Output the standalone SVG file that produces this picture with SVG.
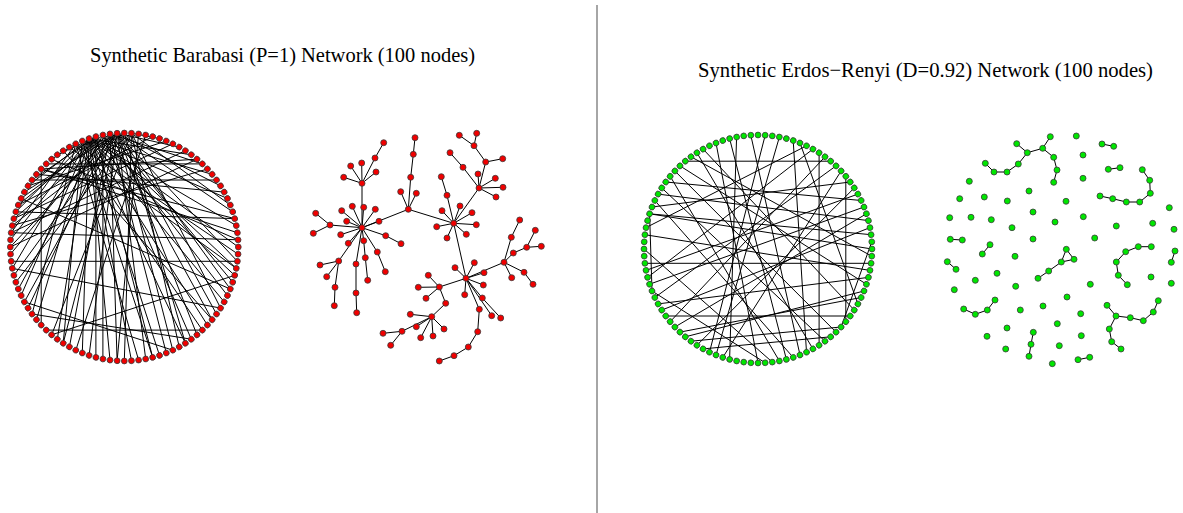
<svg xmlns="http://www.w3.org/2000/svg" xmlns:xlink="http://www.w3.org/1999/xlink" width="1183" height="513" viewBox="0 0 1183 513">
<style>
.title{font-family:"Liberation Serif","Times New Roman",serif;font-size:21px;fill:#000}
.edges line{stroke:#000;stroke-width:1;fill:none}
.rn{fill:#f00000;stroke:#3a3a3a;stroke-width:0.8}
.gn{fill:#00e600;stroke:#3a3a3a;stroke-width:0.8}
.div{stroke:#888;stroke-width:1.5}
</style>
<defs>
<circle id="rd" class="rn" cx="114" cy="0" r="2.9"/>
<circle id="gd" class="gn" cx="114" cy="0" r="2.9"/>
</defs>
<rect width="1183" height="513" fill="#fff"/>
<line class="div" x1="597" y1="5" x2="597" y2="513"/>
<text class="title" x="90" y="62" textLength="385" lengthAdjust="spacingAndGlyphs">Synthetic Barabasi (P=1) Network (100 nodes)</text>
<text class="title" x="698" y="77" textLength="455" lengthAdjust="spacingAndGlyphs">Synthetic Erdos−Renyi (D=0.92) Network (100 nodes)</text>

<!-- Barabasi circular layout -->
<g id="ba-circle" transform="translate(124.3 247)">
<g class="edges" id="ba-circle-edges">
<line x1="-35.2" y1="-108.4" x2="114" y2="0"/>
<line x1="-35.2" y1="-108.4" x2="110.4" y2="28.4"/>
<line x1="-35.2" y1="-108.4" x2="99.9" y2="54.9"/>
<line x1="-35.2" y1="-108.4" x2="83.1" y2="78"/>
<line x1="-35.2" y1="-108.4" x2="61.1" y2="96.3"/>
<line x1="-35.2" y1="-108.4" x2="35.2" y2="108.4"/>
<line x1="-35.2" y1="-108.4" x2="7.2" y2="113.8"/>
<line x1="-35.2" y1="-108.4" x2="-14.3" y2="113.1"/>
<line x1="-35.2" y1="-108.4" x2="-42" y2="106"/>
<line x1="-35.2" y1="-108.4" x2="-67" y2="92.2"/>
<line x1="-35.2" y1="-108.4" x2="-87.8" y2="72.7"/>
<line x1="-35.2" y1="-108.4" x2="-103.2" y2="48.5"/>
<line x1="-35.2" y1="-108.4" x2="-112" y2="21.4"/>
<line x1="-35.2" y1="-108.4" x2="-113.8" y2="-7.2"/>
<line x1="-35.2" y1="-108.4" x2="-108.4" y2="-35.2"/>
<line x1="-35.2" y1="-108.4" x2="-96.3" y2="-61.1"/>
<line x1="-35.2" y1="-108.4" x2="67" y2="-92.2"/>
<line x1="-35.2" y1="-108.4" x2="87.8" y2="-72.7"/>
<line x1="-35.2" y1="-108.4" x2="103.2" y2="-48.5"/>
<line x1="-35.2" y1="-108.4" x2="112" y2="-21.4"/>
<line x1="-7.2" y1="-113.8" x2="113.1" y2="14.3"/>
<line x1="-7.2" y1="-113.8" x2="106" y2="42"/>
<line x1="-7.2" y1="-113.8" x2="92.2" y2="67"/>
<line x1="-7.2" y1="-113.8" x2="72.7" y2="87.8"/>
<line x1="-7.2" y1="-113.8" x2="48.5" y2="103.2"/>
<line x1="-7.2" y1="-113.8" x2="21.4" y2="112"/>
<line x1="-7.2" y1="-113.8" x2="-35.2" y2="108.4"/>
<line x1="-7.2" y1="-113.8" x2="-61.1" y2="96.3"/>
<line x1="-7.2" y1="-113.8" x2="-99.9" y2="54.9"/>
<line x1="-7.2" y1="-113.8" x2="-110.4" y2="28.4"/>
<line x1="-7.2" y1="-113.8" x2="-114" y2="0"/>
<line x1="-7.2" y1="-113.8" x2="-110.4" y2="-28.4"/>
<line x1="-7.2" y1="-113.8" x2="-99.9" y2="-54.9"/>
<line x1="-7.2" y1="-113.8" x2="54.9" y2="-99.9"/>
<line x1="-7.2" y1="-113.8" x2="96.3" y2="-61.1"/>
<line x1="-7.2" y1="-113.8" x2="108.4" y2="-35.2"/>
<line x1="-14.3" y1="-113.1" x2="108.4" y2="35.2"/>
<line x1="-14.3" y1="-113.1" x2="87.8" y2="72.7"/>
<line x1="-14.3" y1="-113.1" x2="42" y2="106"/>
<line x1="-14.3" y1="-113.1" x2="-7.2" y2="113.8"/>
<line x1="-14.3" y1="-113.1" x2="-54.9" y2="99.9"/>
<line x1="-14.3" y1="-113.1" x2="-96.3" y2="61.1"/>
<line x1="-14.3" y1="-113.1" x2="-113.8" y2="7.2"/>
<line x1="-14.3" y1="-113.1" x2="-103.2" y2="-48.5"/>
<line x1="-14.3" y1="-113.1" x2="78" y2="-83.1"/>
<line x1="7.2" y1="-113.8" x2="96.3" y2="61.1"/>
<line x1="7.2" y1="-113.8" x2="54.9" y2="99.9"/>
<line x1="7.2" y1="-113.8" x2="0" y2="114"/>
<line x1="7.2" y1="-113.8" x2="-72.7" y2="87.8"/>
<line x1="7.2" y1="-113.8" x2="-108.4" y2="35.2"/>
<line x1="7.2" y1="-113.8" x2="-112" y2="-21.4"/>
<line x1="7.2" y1="-113.8" x2="35.2" y2="-108.4"/>
<line x1="7.2" y1="-113.8" x2="106" y2="-42"/>
<line x1="-48.5" y1="-103.2" x2="113.8" y2="7.2"/>
<line x1="-48.5" y1="-103.2" x2="78" y2="83.1"/>
<line x1="-48.5" y1="-103.2" x2="14.3" y2="113.1"/>
<line x1="-48.5" y1="-103.2" x2="-92.2" y2="67"/>
<line x1="-48.5" y1="-103.2" x2="-113.1" y2="-14.3"/>
<line x1="-48.5" y1="-103.2" x2="-72.7" y2="-87.8"/>
<line x1="-21.4" y1="-112" x2="103.2" y2="48.5"/>
<line x1="-21.4" y1="-112" x2="67" y2="92.2"/>
<line x1="-21.4" y1="-112" x2="-21.4" y2="112"/>
<line x1="-21.4" y1="-112" x2="-106" y2="42"/>
<line x1="-21.4" y1="-112" x2="-106" y2="-42"/>
<line x1="-28.4" y1="-110.4" x2="-28.4" y2="110.4"/>
<line x1="-28.4" y1="-110.4" x2="28.4" y2="110.4"/>
<line x1="-28.4" y1="-110.4" x2="-92.2" y2="-67"/>
<line x1="-28.4" y1="-110.4" x2="-67" y2="-92.2"/>
<line x1="-28.4" y1="-110.4" x2="112" y2="21.4"/>
<line x1="-83.1" y1="-78" x2="-83.1" y2="78"/>
<line x1="-83.1" y1="-78" x2="72.7" y2="-87.8"/>
<line x1="-83.1" y1="-78" x2="110.4" y2="-28.4"/>
<line x1="-83.1" y1="-78" x2="113.1" y2="-14.3"/>
<line x1="113.1" y1="14.3" x2="-113.1" y2="14.3"/>
<line x1="78" y1="83.1" x2="-78" y2="83.1"/>
<line x1="-92.2" y1="-67" x2="92.2" y2="-67"/>
<line x1="-78" y1="-83.1" x2="78" y2="-83.1"/>
<line x1="-113.1" y1="-14.3" x2="113.8" y2="-7.2"/>
<line x1="-113.1" y1="-14.3" x2="61.1" y2="-96.3"/>
<line x1="-110.4" y1="-28.4" x2="48.5" y2="-103.2"/>
<line x1="-106" y1="-42" x2="28.4" y2="-110.4"/>
<line x1="-48.5" y1="103.2" x2="21.4" y2="-112"/>
<line x1="-87.8" y1="-72.7" x2="99.9" y2="-54.9"/>
<line x1="-96.3" y1="-61.1" x2="42" y2="-106"/>
<line x1="-61.1" y1="-96.3" x2="87.8" y2="72.7"/>
<line x1="-54.9" y1="-99.9" x2="112" y2="21.4"/>
<line x1="-42" y1="-106" x2="28.4" y2="110.4"/>
<line x1="0" y1="-114" x2="61.1" y2="96.3"/>
<line x1="14.3" y1="-113.1" x2="-7.2" y2="113.8"/>
<line x1="-42" y1="-106" x2="-61.1" y2="96.3"/>
<line x1="-112" y1="-21.4" x2="83.1" y2="-78"/>
<line x1="-108.4" y1="-35.2" x2="110.4" y2="-28.4"/>
<line x1="-72.7" y1="-87.8" x2="113.8" y2="-7.2"/>
<line x1="-72.7" y1="87.8" x2="110.4" y2="28.4"/>
<line x1="-92.2" y1="67" x2="67" y2="92.2"/>
<line x1="-99.9" y1="54.9" x2="48.5" y2="103.2"/>
<line x1="-112" y1="21.4" x2="96.3" y2="61.1"/>
<line x1="-114" y1="0" x2="72.7" y2="-87.8"/>
<line x1="-103.2" y1="-48.5" x2="106" y2="42"/>
</g>
<g id="ba-circle-nodes">
<use id="bc0" href="#rd" transform="rotate(0)"/><use id="bc1" href="#rd" transform="rotate(3.6)"/><use id="bc2" href="#rd" transform="rotate(7.2)"/><use id="bc3" href="#rd" transform="rotate(10.8)"/><use id="bc4" href="#rd" transform="rotate(14.4)"/><use id="bc5" href="#rd" transform="rotate(18)"/><use id="bc6" href="#rd" transform="rotate(21.6)"/><use id="bc7" href="#rd" transform="rotate(25.2)"/><use id="bc8" href="#rd" transform="rotate(28.8)"/><use id="bc9" href="#rd" transform="rotate(32.4)"/>
<use id="bc10" href="#rd" transform="rotate(36)"/><use id="bc11" href="#rd" transform="rotate(39.6)"/><use id="bc12" href="#rd" transform="rotate(43.2)"/><use id="bc13" href="#rd" transform="rotate(46.8)"/><use id="bc14" href="#rd" transform="rotate(50.4)"/><use id="bc15" href="#rd" transform="rotate(54)"/><use id="bc16" href="#rd" transform="rotate(57.6)"/><use id="bc17" href="#rd" transform="rotate(61.2)"/><use id="bc18" href="#rd" transform="rotate(64.8)"/><use id="bc19" href="#rd" transform="rotate(68.4)"/>
<use id="bc20" href="#rd" transform="rotate(72)"/><use id="bc21" href="#rd" transform="rotate(75.6)"/><use id="bc22" href="#rd" transform="rotate(79.2)"/><use id="bc23" href="#rd" transform="rotate(82.8)"/><use id="bc24" href="#rd" transform="rotate(86.4)"/><use id="bc25" href="#rd" transform="rotate(90)"/><use id="bc26" href="#rd" transform="rotate(93.6)"/><use id="bc27" href="#rd" transform="rotate(97.2)"/><use id="bc28" href="#rd" transform="rotate(100.8)"/><use id="bc29" href="#rd" transform="rotate(104.4)"/>
<use id="bc30" href="#rd" transform="rotate(108)"/><use id="bc31" href="#rd" transform="rotate(111.6)"/><use id="bc32" href="#rd" transform="rotate(115.2)"/><use id="bc33" href="#rd" transform="rotate(118.8)"/><use id="bc34" href="#rd" transform="rotate(122.4)"/><use id="bc35" href="#rd" transform="rotate(126)"/><use id="bc36" href="#rd" transform="rotate(129.6)"/><use id="bc37" href="#rd" transform="rotate(133.2)"/><use id="bc38" href="#rd" transform="rotate(136.8)"/><use id="bc39" href="#rd" transform="rotate(140.4)"/>
<use id="bc40" href="#rd" transform="rotate(144)"/><use id="bc41" href="#rd" transform="rotate(147.6)"/><use id="bc42" href="#rd" transform="rotate(151.2)"/><use id="bc43" href="#rd" transform="rotate(154.8)"/><use id="bc44" href="#rd" transform="rotate(158.4)"/><use id="bc45" href="#rd" transform="rotate(162)"/><use id="bc46" href="#rd" transform="rotate(165.6)"/><use id="bc47" href="#rd" transform="rotate(169.2)"/><use id="bc48" href="#rd" transform="rotate(172.8)"/><use id="bc49" href="#rd" transform="rotate(176.4)"/>
<use id="bc50" href="#rd" transform="rotate(180)"/><use id="bc51" href="#rd" transform="rotate(183.6)"/><use id="bc52" href="#rd" transform="rotate(187.2)"/><use id="bc53" href="#rd" transform="rotate(190.8)"/><use id="bc54" href="#rd" transform="rotate(194.4)"/><use id="bc55" href="#rd" transform="rotate(198)"/><use id="bc56" href="#rd" transform="rotate(201.6)"/><use id="bc57" href="#rd" transform="rotate(205.2)"/><use id="bc58" href="#rd" transform="rotate(208.8)"/><use id="bc59" href="#rd" transform="rotate(212.4)"/>
<use id="bc60" href="#rd" transform="rotate(216)"/><use id="bc61" href="#rd" transform="rotate(219.6)"/><use id="bc62" href="#rd" transform="rotate(223.2)"/><use id="bc63" href="#rd" transform="rotate(226.8)"/><use id="bc64" href="#rd" transform="rotate(230.4)"/><use id="bc65" href="#rd" transform="rotate(234)"/><use id="bc66" href="#rd" transform="rotate(237.6)"/><use id="bc67" href="#rd" transform="rotate(241.2)"/><use id="bc68" href="#rd" transform="rotate(244.8)"/><use id="bc69" href="#rd" transform="rotate(248.4)"/>
<use id="bc70" href="#rd" transform="rotate(252)"/><use id="bc71" href="#rd" transform="rotate(255.6)"/><use id="bc72" href="#rd" transform="rotate(259.2)"/><use id="bc73" href="#rd" transform="rotate(262.8)"/><use id="bc74" href="#rd" transform="rotate(266.4)"/><use id="bc75" href="#rd" transform="rotate(270)"/><use id="bc76" href="#rd" transform="rotate(273.6)"/><use id="bc77" href="#rd" transform="rotate(277.2)"/><use id="bc78" href="#rd" transform="rotate(280.8)"/><use id="bc79" href="#rd" transform="rotate(284.4)"/>
<use id="bc80" href="#rd" transform="rotate(288)"/><use id="bc81" href="#rd" transform="rotate(291.6)"/><use id="bc82" href="#rd" transform="rotate(295.2)"/><use id="bc83" href="#rd" transform="rotate(298.8)"/><use id="bc84" href="#rd" transform="rotate(302.4)"/><use id="bc85" href="#rd" transform="rotate(306)"/><use id="bc86" href="#rd" transform="rotate(309.6)"/><use id="bc87" href="#rd" transform="rotate(313.2)"/><use id="bc88" href="#rd" transform="rotate(316.8)"/><use id="bc89" href="#rd" transform="rotate(320.4)"/>
<use id="bc90" href="#rd" transform="rotate(324)"/><use id="bc91" href="#rd" transform="rotate(327.6)"/><use id="bc92" href="#rd" transform="rotate(331.2)"/><use id="bc93" href="#rd" transform="rotate(334.8)"/><use id="bc94" href="#rd" transform="rotate(338.4)"/><use id="bc95" href="#rd" transform="rotate(342)"/><use id="bc96" href="#rd" transform="rotate(345.6)"/><use id="bc97" href="#rd" transform="rotate(349.2)"/><use id="bc98" href="#rd" transform="rotate(352.8)"/><use id="bc99" href="#rd" transform="rotate(356.4)"/>
</g>
</g>

<!-- Barabasi tree layout -->
<g id="ba-tree">
<g class="edges" id="ba-tree-edges">
<line x1="362" y1="227.7" x2="362" y2="183.3"/>
<line x1="362" y1="227.7" x2="408.3" y2="209.3"/>
<line x1="408.3" y1="209.3" x2="453.7" y2="223.3"/>
<line x1="453.7" y1="223.3" x2="466" y2="278.3"/>
<line x1="453.7" y1="223.3" x2="479" y2="188"/>
<line x1="466" y1="278.3" x2="504" y2="262.3"/>
<line x1="466" y1="278.3" x2="439.3" y2="287"/>
<line x1="439.3" y1="287" x2="445.7" y2="303.3"/>
<line x1="445.7" y1="303.3" x2="431.7" y2="316.7"/>
<line x1="362" y1="183.3" x2="343.7" y2="177.3"/>
<line x1="362" y1="183.3" x2="350.7" y2="166"/>
<line x1="362" y1="183.3" x2="361.7" y2="163"/>
<line x1="362" y1="183.3" x2="375" y2="158"/>
<line x1="375" y1="158" x2="383.7" y2="142.7"/>
<line x1="362" y1="183.3" x2="376" y2="172"/>
<line x1="362" y1="227.7" x2="330" y2="225"/>
<line x1="330" y1="225" x2="315.7" y2="213.3"/>
<line x1="330" y1="225" x2="313.3" y2="233.3"/>
<line x1="362" y1="227.7" x2="341.7" y2="210.7"/>
<line x1="362" y1="227.7" x2="352.3" y2="206.3"/>
<line x1="362" y1="227.7" x2="363.7" y2="207.3"/>
<line x1="362" y1="227.7" x2="375.3" y2="209.3"/>
<line x1="362" y1="227.7" x2="379" y2="221.3"/>
<line x1="362" y1="227.7" x2="346.7" y2="221.3"/>
<line x1="362" y1="227.7" x2="340.7" y2="234.7"/>
<line x1="362" y1="227.7" x2="348.3" y2="243.3"/>
<line x1="362" y1="227.7" x2="385.7" y2="235.7"/>
<line x1="385.7" y1="235.7" x2="401" y2="243.7"/>
<line x1="362" y1="227.7" x2="363.7" y2="240.7"/>
<line x1="363.7" y1="240.7" x2="365.3" y2="257.7"/>
<line x1="365.3" y1="257.7" x2="367.7" y2="280.3"/>
<line x1="362" y1="227.7" x2="377.3" y2="252"/>
<line x1="377.3" y1="252" x2="385.3" y2="271.7"/>
<line x1="362" y1="227.7" x2="356" y2="264"/>
<line x1="356" y1="264" x2="356" y2="293"/>
<line x1="356" y1="293" x2="356.7" y2="312.7"/>
<line x1="362" y1="227.7" x2="338.7" y2="261"/>
<line x1="338.7" y1="261" x2="320" y2="265"/>
<line x1="338.7" y1="261" x2="326.7" y2="276.7"/>
<line x1="338.7" y1="261" x2="335" y2="287.3"/>
<line x1="335" y1="287.3" x2="334.3" y2="305.7"/>
<line x1="408.3" y1="209.3" x2="400.7" y2="191.7"/>
<line x1="408.3" y1="209.3" x2="416.3" y2="193.3"/>
<line x1="408.3" y1="209.3" x2="410.7" y2="177.3"/>
<line x1="410.7" y1="177.3" x2="413.3" y2="154.3"/>
<line x1="413.3" y1="154.3" x2="415" y2="137.7"/>
<line x1="453.7" y1="223.3" x2="447" y2="195.3"/>
<line x1="447" y1="195.3" x2="441.3" y2="176.7"/>
<line x1="453.7" y1="223.3" x2="436.7" y2="226.7"/>
<line x1="453.7" y1="223.3" x2="442" y2="210.7"/>
<line x1="453.7" y1="223.3" x2="447" y2="238"/>
<line x1="453.7" y1="223.3" x2="460" y2="206"/>
<line x1="453.7" y1="223.3" x2="472" y2="212.7"/>
<line x1="453.7" y1="223.3" x2="476.3" y2="224.7"/>
<line x1="453.7" y1="223.3" x2="466.3" y2="234.3"/>
<line x1="479" y1="188" x2="463" y2="167.3"/>
<line x1="463" y1="167.3" x2="450" y2="152.7"/>
<line x1="479" y1="188" x2="478" y2="174"/>
<line x1="479" y1="188" x2="495.3" y2="178.3"/>
<line x1="479" y1="188" x2="503" y2="187.3"/>
<line x1="479" y1="188" x2="496" y2="197"/>
<line x1="479" y1="188" x2="485.7" y2="162"/>
<line x1="485.7" y1="162" x2="502.7" y2="158.7"/>
<line x1="485.7" y1="162" x2="474" y2="145.7"/>
<line x1="474" y1="145.7" x2="459.3" y2="135.3"/>
<line x1="474" y1="145.7" x2="476.7" y2="133.3"/>
<line x1="466" y1="278.3" x2="455" y2="267.7"/>
<line x1="466" y1="278.3" x2="474.3" y2="262.7"/>
<line x1="466" y1="278.3" x2="484" y2="272.7"/>
<line x1="466" y1="278.3" x2="483.3" y2="285"/>
<line x1="466" y1="278.3" x2="464.7" y2="294.7"/>
<line x1="466" y1="278.3" x2="482.3" y2="298"/>
<line x1="482.3" y1="298" x2="500.7" y2="318"/>
<line x1="466" y1="278.3" x2="491.7" y2="315.7"/>
<line x1="466" y1="278.3" x2="479.3" y2="309.3"/>
<line x1="479.3" y1="309.3" x2="477.7" y2="331.7"/>
<line x1="477.7" y1="331.7" x2="468.3" y2="347"/>
<line x1="468.3" y1="347" x2="454" y2="355.7"/>
<line x1="454" y1="355.7" x2="439.3" y2="361"/>
<line x1="504" y1="262.3" x2="511.3" y2="237.3"/>
<line x1="511.3" y1="237.3" x2="519.7" y2="220"/>
<line x1="504" y1="262.3" x2="513.3" y2="253"/>
<line x1="513.3" y1="253" x2="526.7" y2="247.3"/>
<line x1="526.7" y1="247.3" x2="535.3" y2="230.3"/>
<line x1="526.7" y1="247.3" x2="541.3" y2="246.3"/>
<line x1="504" y1="262.3" x2="524" y2="272.3"/>
<line x1="524" y1="272.3" x2="533" y2="284.3"/>
<line x1="504" y1="262.3" x2="511.7" y2="277.7"/>
<line x1="439.3" y1="287" x2="428.3" y2="275.3"/>
<line x1="439.3" y1="287" x2="418.3" y2="287.3"/>
<line x1="439.3" y1="287" x2="426" y2="298.3"/>
<line x1="431.7" y1="316.7" x2="410.3" y2="314.3"/>
<line x1="431.7" y1="316.7" x2="416.3" y2="326.7"/>
<line x1="431.7" y1="316.7" x2="420.7" y2="337.7"/>
<line x1="431.7" y1="316.7" x2="433" y2="336"/>
<line x1="431.7" y1="316.7" x2="444" y2="329"/>
<line x1="431.7" y1="316.7" x2="402" y2="331.3"/>
<line x1="402" y1="331.3" x2="383" y2="333.3"/>
<line x1="402" y1="331.3" x2="390.7" y2="345.3"/>
</g>
<g id="ba-tree-nodes" class="rn">
<circle id="bt-A" cx="362" cy="227.7" r="3"/><circle id="bt-B" cx="408.3" cy="209.3" r="3"/><circle id="bt-C" cx="453.7" cy="223.3" r="3"/><circle id="bt-D" cx="466" cy="278.3" r="3"/><circle id="bt-E" cx="479" cy="188" r="3"/><circle id="bt-F" cx="362" cy="183.3" r="3"/><circle id="bt-G" cx="431.7" cy="316.7" r="3"/><circle id="bt-H" cx="504" cy="262.3" r="3"/><circle id="bt-I" cx="439.3" cy="287" r="3"/>
<circle id="bt-f1" cx="343.7" cy="177.3" r="3"/><circle id="bt-f2" cx="350.7" cy="166" r="3"/><circle id="bt-f3" cx="361.7" cy="163" r="3"/><circle id="bt-f4" cx="375" cy="158" r="3"/><circle id="bt-f5" cx="383.7" cy="142.7" r="3"/><circle id="bt-f6" cx="376" cy="172" r="3"/>
<circle id="bt-a1" cx="330" cy="225" r="3"/><circle id="bt-a1a" cx="315.7" cy="213.3" r="3"/><circle id="bt-a1b" cx="313.3" cy="233.3" r="3"/><circle id="bt-a2" cx="341.7" cy="210.7" r="3"/><circle id="bt-a3" cx="352.3" cy="206.3" r="3"/><circle id="bt-a4" cx="363.7" cy="207.3" r="3"/><circle id="bt-a5" cx="375.3" cy="209.3" r="3"/><circle id="bt-a6" cx="379" cy="221.3" r="3"/><circle id="bt-a7" cx="346.7" cy="221.3" r="3"/><circle id="bt-a8" cx="340.7" cy="234.7" r="3"/><circle id="bt-a9" cx="348.3" cy="243.3" r="3"/><circle id="bt-a10" cx="385.7" cy="235.7" r="3"/><circle id="bt-a10a" cx="401" cy="243.7" r="3"/><circle id="bt-a11" cx="363.7" cy="240.7" r="3"/><circle id="bt-a11a" cx="365.3" cy="257.7" r="3"/><circle id="bt-a11b" cx="367.7" cy="280.3" r="3"/><circle id="bt-a12" cx="377.3" cy="252" r="3"/><circle id="bt-a12a" cx="385.3" cy="271.7" r="3"/><circle id="bt-a13" cx="356" cy="264" r="3"/><circle id="bt-a13a" cx="356" cy="293" r="3"/><circle id="bt-a13b" cx="356.7" cy="312.7" r="3"/><circle id="bt-a14" cx="338.7" cy="261" r="3"/><circle id="bt-a14a" cx="320" cy="265" r="3"/><circle id="bt-a14b" cx="326.7" cy="276.7" r="3"/><circle id="bt-a14c" cx="335" cy="287.3" r="3"/><circle id="bt-a14d" cx="334.3" cy="305.7" r="3"/>
<circle id="bt-b1" cx="400.7" cy="191.7" r="3"/><circle id="bt-b2" cx="416.3" cy="193.3" r="3"/><circle id="bt-b3" cx="410.7" cy="177.3" r="3"/><circle id="bt-b3a" cx="413.3" cy="154.3" r="3"/><circle id="bt-b3b" cx="415" cy="137.7" r="3"/>
<circle id="bt-c1" cx="447" cy="195.3" r="3"/><circle id="bt-c1a" cx="441.3" cy="176.7" r="3"/><circle id="bt-c2" cx="436.7" cy="226.7" r="3"/><circle id="bt-c3" cx="442" cy="210.7" r="3"/><circle id="bt-c4" cx="447" cy="238" r="3"/><circle id="bt-c5" cx="460" cy="206" r="3"/><circle id="bt-c6" cx="472" cy="212.7" r="3"/><circle id="bt-c7" cx="476.3" cy="224.7" r="3"/><circle id="bt-c8" cx="466.3" cy="234.3" r="3"/>
<circle id="bt-e1" cx="463" cy="167.3" r="3"/><circle id="bt-e1a" cx="450" cy="152.7" r="3"/><circle id="bt-e2" cx="478" cy="174" r="3"/><circle id="bt-e3" cx="495.3" cy="178.3" r="3"/><circle id="bt-e4" cx="503" cy="187.3" r="3"/><circle id="bt-e5" cx="496" cy="197" r="3"/><circle id="bt-e6" cx="485.7" cy="162" r="3"/><circle id="bt-e6a" cx="502.7" cy="158.7" r="3"/><circle id="bt-e6b" cx="474" cy="145.7" r="3"/><circle id="bt-e6b1" cx="459.3" cy="135.3" r="3"/><circle id="bt-e6b2" cx="476.7" cy="133.3" r="3"/>
<circle id="bt-d1" cx="455" cy="267.7" r="3"/><circle id="bt-d2" cx="474.3" cy="262.7" r="3"/><circle id="bt-d3" cx="484" cy="272.7" r="3"/><circle id="bt-d4" cx="483.3" cy="285" r="3"/><circle id="bt-d5" cx="464.7" cy="294.7" r="3"/><circle id="bt-d6" cx="482.3" cy="298" r="3"/><circle id="bt-d7" cx="491.7" cy="315.7" r="3"/><circle id="bt-d8" cx="500.7" cy="318" r="3"/><circle id="bt-d9" cx="479.3" cy="309.3" r="3"/><circle id="bt-d9a" cx="477.7" cy="331.7" r="3"/><circle id="bt-d9b" cx="468.3" cy="347" r="3"/><circle id="bt-d9c" cx="454" cy="355.7" r="3"/><circle id="bt-d9d" cx="439.3" cy="361" r="3"/>
<circle id="bt-h1" cx="511.3" cy="237.3" r="3"/><circle id="bt-h1a" cx="519.7" cy="220" r="3"/><circle id="bt-h2" cx="513.3" cy="253" r="3"/><circle id="bt-h3" cx="526.7" cy="247.3" r="3"/><circle id="bt-h3a" cx="535.3" cy="230.3" r="3"/><circle id="bt-h3b" cx="541.3" cy="246.3" r="3"/><circle id="bt-h4" cx="524" cy="272.3" r="3"/><circle id="bt-h4a" cx="533" cy="284.3" r="3"/><circle id="bt-h5" cx="511.7" cy="277.7" r="3"/>
<circle id="bt-i1" cx="428.3" cy="275.3" r="3"/><circle id="bt-i2" cx="418.3" cy="287.3" r="3"/><circle id="bt-i3" cx="426" cy="298.3" r="3"/><circle id="bt-i4" cx="445.7" cy="303.3" r="3"/>
<circle id="bt-g1" cx="410.3" cy="314.3" r="3"/><circle id="bt-g2" cx="416.3" cy="326.7" r="3"/><circle id="bt-g3" cx="420.7" cy="337.7" r="3"/><circle id="bt-g4" cx="433" cy="336" r="3"/><circle id="bt-g5" cx="444" cy="329" r="3"/><circle id="bt-g6" cx="402" cy="331.3" r="3"/><circle id="bt-g6a" cx="383" cy="333.3" r="3"/><circle id="bt-g6b" cx="390.7" cy="345.3" r="3"/>
</g>
</g>

<!-- Erdos-Renyi circular layout -->
<g id="er-circle" transform="translate(758 249)">
<g class="edges" id="er-circle-edges">
<line x1="113.1" y1="14.3" x2="-113.1" y2="14.3"/>
<line x1="-21.4" y1="-112" x2="-28.4" y2="110.4"/>
<line x1="61.1" y1="-96.3" x2="61.1" y2="96.3"/>
<line x1="87.8" y1="-72.7" x2="87.8" y2="72.7"/>
<line x1="-110.4" y1="28.4" x2="54.9" y2="-99.9"/>
<line x1="-103.2" y1="48.5" x2="78" y2="-83.1"/>
<line x1="-54.9" y1="-99.9" x2="96.3" y2="61.1"/>
<line x1="-28.4" y1="-110.4" x2="28.4" y2="110.4"/>
<line x1="7.2" y1="-113.8" x2="-48.5" y2="103.2"/>
<line x1="35.2" y1="-108.4" x2="48.5" y2="103.2"/>
<line x1="42" y1="-106" x2="99.9" y2="54.9"/>
<line x1="-108.4" y1="-35.2" x2="114" y2="0"/>
<line x1="-108.4" y1="-35.2" x2="113.1" y2="-14.3"/>
<line x1="-106" y1="-42" x2="92.2" y2="-67"/>
<line x1="-108.4" y1="-35.2" x2="-106" y2="42"/>
<line x1="-92.2" y1="-67" x2="103.2" y2="-48.5"/>
<line x1="-78" y1="-83.1" x2="108.4" y2="35.2"/>
<line x1="-72.7" y1="-87.8" x2="72.7" y2="-87.8"/>
<line x1="-99.9" y1="-54.9" x2="110.4" y2="-28.4"/>
<line x1="-113.1" y1="-14.3" x2="112" y2="21.4"/>
<line x1="-112" y1="-21.4" x2="48.5" y2="-103.2"/>
<line x1="-112" y1="21.4" x2="99.9" y2="-54.9"/>
<line x1="-108.4" y1="35.2" x2="106" y2="-42"/>
<line x1="-96.3" y1="61.1" x2="112" y2="-21.4"/>
<line x1="-87.8" y1="72.7" x2="67" y2="-92.2"/>
<line x1="-78" y1="83.1" x2="103.2" y2="48.5"/>
<line x1="-67" y1="92.2" x2="83.1" y2="78"/>
<line x1="-54.9" y1="99.9" x2="72.7" y2="87.8"/>
<line x1="-42" y1="106" x2="21.4" y2="-112"/>
<line x1="-67" y1="-92.2" x2="113.8" y2="7.2"/>
<line x1="0" y1="114" x2="-42" y2="-106"/>
<line x1="21.4" y1="112" x2="-87.8" y2="-72.7"/>
<line x1="35.2" y1="108.4" x2="-103.2" y2="-48.5"/>
<line x1="7.2" y1="113.8" x2="-106" y2="42"/>
<line x1="54.9" y1="99.9" x2="-61.1" y2="-96.3"/>
<line x1="78" y1="83.1" x2="-83.1" y2="-78"/>
<line x1="92.2" y1="67" x2="-92.2" y2="67"/>
<line x1="106" y1="42" x2="-72.7" y2="87.8"/>
<line x1="110.4" y1="28.4" x2="-99.9" y2="54.9"/>
<line x1="42" y1="106" x2="-7.2" y2="-113.8"/>
<line x1="14.3" y1="113.1" x2="-114" y2="0"/>
<line x1="-96.3" y1="-61.1" x2="67" y2="92.2"/>
<line x1="-35.2" y1="108.4" x2="83.1" y2="-78"/>
<line x1="-61.1" y1="96.3" x2="96.3" y2="-61.1"/>
<line x1="-83.1" y1="78" x2="108.4" y2="-35.2"/>
<line x1="83.1" y1="78" x2="113.8" y2="-7.2"/>
</g>
<g id="er-circle-nodes">
<use id="ec0" href="#gd" transform="rotate(0)"/><use id="ec1" href="#gd" transform="rotate(3.6)"/><use id="ec2" href="#gd" transform="rotate(7.2)"/><use id="ec3" href="#gd" transform="rotate(10.8)"/><use id="ec4" href="#gd" transform="rotate(14.4)"/><use id="ec5" href="#gd" transform="rotate(18)"/><use id="ec6" href="#gd" transform="rotate(21.6)"/><use id="ec7" href="#gd" transform="rotate(25.2)"/><use id="ec8" href="#gd" transform="rotate(28.8)"/><use id="ec9" href="#gd" transform="rotate(32.4)"/>
<use id="ec10" href="#gd" transform="rotate(36)"/><use id="ec11" href="#gd" transform="rotate(39.6)"/><use id="ec12" href="#gd" transform="rotate(43.2)"/><use id="ec13" href="#gd" transform="rotate(46.8)"/><use id="ec14" href="#gd" transform="rotate(50.4)"/><use id="ec15" href="#gd" transform="rotate(54)"/><use id="ec16" href="#gd" transform="rotate(57.6)"/><use id="ec17" href="#gd" transform="rotate(61.2)"/><use id="ec18" href="#gd" transform="rotate(64.8)"/><use id="ec19" href="#gd" transform="rotate(68.4)"/>
<use id="ec20" href="#gd" transform="rotate(72)"/><use id="ec21" href="#gd" transform="rotate(75.6)"/><use id="ec22" href="#gd" transform="rotate(79.2)"/><use id="ec23" href="#gd" transform="rotate(82.8)"/><use id="ec24" href="#gd" transform="rotate(86.4)"/><use id="ec25" href="#gd" transform="rotate(90)"/><use id="ec26" href="#gd" transform="rotate(93.6)"/><use id="ec27" href="#gd" transform="rotate(97.2)"/><use id="ec28" href="#gd" transform="rotate(100.8)"/><use id="ec29" href="#gd" transform="rotate(104.4)"/>
<use id="ec30" href="#gd" transform="rotate(108)"/><use id="ec31" href="#gd" transform="rotate(111.6)"/><use id="ec32" href="#gd" transform="rotate(115.2)"/><use id="ec33" href="#gd" transform="rotate(118.8)"/><use id="ec34" href="#gd" transform="rotate(122.4)"/><use id="ec35" href="#gd" transform="rotate(126)"/><use id="ec36" href="#gd" transform="rotate(129.6)"/><use id="ec37" href="#gd" transform="rotate(133.2)"/><use id="ec38" href="#gd" transform="rotate(136.8)"/><use id="ec39" href="#gd" transform="rotate(140.4)"/>
<use id="ec40" href="#gd" transform="rotate(144)"/><use id="ec41" href="#gd" transform="rotate(147.6)"/><use id="ec42" href="#gd" transform="rotate(151.2)"/><use id="ec43" href="#gd" transform="rotate(154.8)"/><use id="ec44" href="#gd" transform="rotate(158.4)"/><use id="ec45" href="#gd" transform="rotate(162)"/><use id="ec46" href="#gd" transform="rotate(165.6)"/><use id="ec47" href="#gd" transform="rotate(169.2)"/><use id="ec48" href="#gd" transform="rotate(172.8)"/><use id="ec49" href="#gd" transform="rotate(176.4)"/>
<use id="ec50" href="#gd" transform="rotate(180)"/><use id="ec51" href="#gd" transform="rotate(183.6)"/><use id="ec52" href="#gd" transform="rotate(187.2)"/><use id="ec53" href="#gd" transform="rotate(190.8)"/><use id="ec54" href="#gd" transform="rotate(194.4)"/><use id="ec55" href="#gd" transform="rotate(198)"/><use id="ec56" href="#gd" transform="rotate(201.6)"/><use id="ec57" href="#gd" transform="rotate(205.2)"/><use id="ec58" href="#gd" transform="rotate(208.8)"/><use id="ec59" href="#gd" transform="rotate(212.4)"/>
<use id="ec60" href="#gd" transform="rotate(216)"/><use id="ec61" href="#gd" transform="rotate(219.6)"/><use id="ec62" href="#gd" transform="rotate(223.2)"/><use id="ec63" href="#gd" transform="rotate(226.8)"/><use id="ec64" href="#gd" transform="rotate(230.4)"/><use id="ec65" href="#gd" transform="rotate(234)"/><use id="ec66" href="#gd" transform="rotate(237.6)"/><use id="ec67" href="#gd" transform="rotate(241.2)"/><use id="ec68" href="#gd" transform="rotate(244.8)"/><use id="ec69" href="#gd" transform="rotate(248.4)"/>
<use id="ec70" href="#gd" transform="rotate(252)"/><use id="ec71" href="#gd" transform="rotate(255.6)"/><use id="ec72" href="#gd" transform="rotate(259.2)"/><use id="ec73" href="#gd" transform="rotate(262.8)"/><use id="ec74" href="#gd" transform="rotate(266.4)"/><use id="ec75" href="#gd" transform="rotate(270)"/><use id="ec76" href="#gd" transform="rotate(273.6)"/><use id="ec77" href="#gd" transform="rotate(277.2)"/><use id="ec78" href="#gd" transform="rotate(280.8)"/><use id="ec79" href="#gd" transform="rotate(284.4)"/>
<use id="ec80" href="#gd" transform="rotate(288)"/><use id="ec81" href="#gd" transform="rotate(291.6)"/><use id="ec82" href="#gd" transform="rotate(295.2)"/><use id="ec83" href="#gd" transform="rotate(298.8)"/><use id="ec84" href="#gd" transform="rotate(302.4)"/><use id="ec85" href="#gd" transform="rotate(306)"/><use id="ec86" href="#gd" transform="rotate(309.6)"/><use id="ec87" href="#gd" transform="rotate(313.2)"/><use id="ec88" href="#gd" transform="rotate(316.8)"/><use id="ec89" href="#gd" transform="rotate(320.4)"/>
<use id="ec90" href="#gd" transform="rotate(324)"/><use id="ec91" href="#gd" transform="rotate(327.6)"/><use id="ec92" href="#gd" transform="rotate(331.2)"/><use id="ec93" href="#gd" transform="rotate(334.8)"/><use id="ec94" href="#gd" transform="rotate(338.4)"/><use id="ec95" href="#gd" transform="rotate(342)"/><use id="ec96" href="#gd" transform="rotate(345.6)"/><use id="ec97" href="#gd" transform="rotate(349.2)"/><use id="ec98" href="#gd" transform="rotate(352.8)"/><use id="ec99" href="#gd" transform="rotate(356.4)"/>
</g>
</g>

<!-- Erdos-Renyi scattered layout -->
<g id="er-layout">
<g class="edges" id="er-layout-edges">
<line x1="1016.7" y1="143.7" x2="1027.3" y2="152.7"/>
<line x1="1027.3" y1="152.7" x2="1042.7" y2="148.3"/>
<line x1="1042.7" y1="148.3" x2="1050.3" y2="136.7"/>
<line x1="1042.7" y1="148.3" x2="1053.7" y2="157.3"/>
<line x1="1053.7" y1="157.3" x2="1057" y2="170"/>
<line x1="1057" y1="170" x2="1053.7" y2="182.3"/>
<line x1="1027.3" y1="152.7" x2="1018.3" y2="164"/>
<line x1="1018.3" y1="164" x2="1007" y2="172"/>
<line x1="1007" y1="172" x2="994" y2="172"/>
<line x1="994" y1="172" x2="985.3" y2="163.3"/>
<line x1="1102" y1="144" x2="1113.7" y2="146.3"/>
<line x1="1108.3" y1="169.3" x2="1120" y2="167.7"/>
<line x1="950.3" y1="239.3" x2="962.3" y2="240"/>
<line x1="982.3" y1="254" x2="990" y2="244.7"/>
<line x1="947.3" y1="261.7" x2="956" y2="269.3"/>
<line x1="1171.3" y1="262.3" x2="1175" y2="251"/>
<line x1="1078" y1="359.7" x2="1089.7" y2="357.3"/>
<line x1="1142.3" y1="169.7" x2="1149.7" y2="180.3"/>
<line x1="1149.7" y1="180.3" x2="1150.3" y2="193.3"/>
<line x1="1150.3" y1="193.3" x2="1139.7" y2="202"/>
<line x1="1139.7" y1="202" x2="1126.3" y2="202"/>
<line x1="1126.3" y1="202" x2="1112.7" y2="198.7"/>
<line x1="1112.7" y1="198.7" x2="1100" y2="196"/>
<line x1="1066.3" y1="249.3" x2="1074" y2="259.3"/>
<line x1="1074" y1="259.3" x2="1061.3" y2="262"/>
<line x1="1061.3" y1="262" x2="1066.3" y2="249.3"/>
<line x1="1061.3" y1="262" x2="1048.7" y2="271"/>
<line x1="1048.7" y1="271" x2="1038" y2="278.3"/>
<line x1="1151.3" y1="246.7" x2="1138.3" y2="246.7"/>
<line x1="1138.3" y1="246.7" x2="1125.7" y2="251.7"/>
<line x1="1125.7" y1="251.7" x2="1116.3" y2="262"/>
<line x1="1116.3" y1="262" x2="1118.3" y2="275.3"/>
<line x1="1118.3" y1="275.3" x2="1127.3" y2="284.7"/>
<line x1="963.7" y1="309" x2="975.3" y2="314.3"/>
<line x1="975.3" y1="314.3" x2="987.3" y2="310"/>
<line x1="987.3" y1="310" x2="995" y2="300"/>
<line x1="1107" y1="305.3" x2="1116" y2="316"/>
<line x1="1116" y1="316" x2="1130.3" y2="317.7"/>
<line x1="1130.3" y1="317.7" x2="1143.3" y2="320.7"/>
<line x1="1143.3" y1="320.7" x2="1153.3" y2="312"/>
<line x1="1153.3" y1="312" x2="1158.3" y2="300.7"/>
<line x1="1116" y1="316" x2="1109.3" y2="329"/>
<line x1="1109.3" y1="329" x2="1111.7" y2="341.7"/>
<line x1="1111.7" y1="341.7" x2="1121" y2="349"/>
<line x1="1033.3" y1="332.3" x2="1031" y2="344.3"/>
<line x1="1031" y1="344.3" x2="1029" y2="356.3"/>
</g>
<g id="er-layout-nodes" class="gn">
<circle id="el1" cx="1016.7" cy="143.7" r="3"/><circle id="el2" cx="1027.3" cy="152.7" r="3"/><circle id="el3" cx="1042.7" cy="148.3" r="3"/><circle id="el4" cx="1050.3" cy="136.7" r="3"/><circle id="el5" cx="1053.7" cy="157.3" r="3"/><circle id="el6" cx="1057" cy="170" r="3"/><circle id="el7" cx="1053.7" cy="182.3" r="3"/><circle id="el8" cx="1018.3" cy="164" r="3"/><circle id="el9" cx="1007" cy="172" r="3"/><circle id="el10" cx="994" cy="172" r="3"/><circle id="el11" cx="985.3" cy="163.3" r="3"/>
<circle id="el12" cx="1076.3" cy="136" r="3"/><circle id="el13" cx="1083" cy="155" r="3"/><circle id="el14" cx="1083" cy="178.3" r="3"/><circle id="el15" cx="969.3" cy="181.3" r="3"/><circle id="el16" cx="1029" cy="191" r="3"/><circle id="el17" cx="959.7" cy="198.7" r="3"/><circle id="el18" cx="984.3" cy="197" r="3"/><circle id="el19" cx="1007.3" cy="201" r="3"/><circle id="el20" cx="1066" cy="201.3" r="3"/><circle id="el21" cx="949.7" cy="217.7" r="3"/><circle id="el22" cx="971" cy="217.3" r="3"/><circle id="el23" cx="991.3" cy="219.7" r="3"/><circle id="el24" cx="1033" cy="212" r="3"/><circle id="el25" cx="1055" cy="222" r="3"/><circle id="el26" cx="1083.3" cy="216.7" r="3"/><circle id="el27" cx="1012" cy="227.7" r="3"/><circle id="el28" cx="1116.3" cy="226" r="3"/><circle id="el29" cx="1152.7" cy="223.3" r="3"/><circle id="el30" cx="1169.3" cy="207.7" r="3"/><circle id="el31" cx="1174" cy="229.3" r="3"/><circle id="el32" cx="1033" cy="239" r="3"/><circle id="el33" cx="1094.7" cy="238" r="3"/><circle id="el34" cx="1015" cy="256.3" r="3"/><circle id="el35" cx="997" cy="273.3" r="3"/><circle id="el36" cx="975.3" cy="280.3" r="3"/><circle id="el37" cx="954.3" cy="289.7" r="3"/><circle id="el38" cx="1015.7" cy="286.3" r="3"/><circle id="el39" cx="1090.3" cy="284.3" r="3"/><circle id="el40" cx="1151" cy="277" r="3"/><circle id="el41" cx="1171.3" cy="283.3" r="3"/><circle id="el42" cx="1067" cy="297" r="3"/><circle id="el43" cx="1043" cy="306" r="3"/><circle id="el44" cx="1020.3" cy="310" r="3"/><circle id="el45" cx="1080.7" cy="313.7" r="3"/><circle id="el46" cx="1007" cy="328" r="3"/><circle id="el47" cx="1057.3" cy="323.7" r="3"/><circle id="el48" cx="987" cy="336.3" r="3"/><circle id="el49" cx="1081.3" cy="335.7" r="3"/><circle id="el50" cx="1059.3" cy="345.7" r="3"/><circle id="el51" cx="1005.7" cy="349" r="3"/><circle id="el52" cx="1052.3" cy="363.7" r="3"/>
<circle id="el53" cx="1102" cy="144" r="3"/><circle id="el54" cx="1113.7" cy="146.3" r="3"/><circle id="el55" cx="1108.3" cy="169.3" r="3"/><circle id="el56" cx="1120" cy="167.7" r="3"/><circle id="el57" cx="950.3" cy="239.3" r="3"/><circle id="el58" cx="962.3" cy="240" r="3"/><circle id="el59" cx="982.3" cy="254" r="3"/><circle id="el60" cx="990" cy="244.7" r="3"/><circle id="el61" cx="947.3" cy="261.7" r="3"/><circle id="el62" cx="956" cy="269.3" r="3"/><circle id="el63" cx="1171.3" cy="262.3" r="3"/><circle id="el64" cx="1175" cy="251" r="3"/><circle id="el65" cx="1078" cy="359.7" r="3"/><circle id="el66" cx="1089.7" cy="357.3" r="3"/>
<circle id="el67" cx="1142.3" cy="169.7" r="3"/><circle id="el68" cx="1149.7" cy="180.3" r="3"/><circle id="el69" cx="1150.3" cy="193.3" r="3"/><circle id="el70" cx="1139.7" cy="202" r="3"/><circle id="el71" cx="1126.3" cy="202" r="3"/><circle id="el72" cx="1112.7" cy="198.7" r="3"/><circle id="el73" cx="1100" cy="196" r="3"/>
<circle id="el74" cx="1066.3" cy="249.3" r="3"/><circle id="el75" cx="1074" cy="259.3" r="3"/><circle id="el76" cx="1061.3" cy="262" r="3"/><circle id="el77" cx="1048.7" cy="271" r="3"/><circle id="el78" cx="1038" cy="278.3" r="3"/>
<circle id="el79" cx="1151.3" cy="246.7" r="3"/><circle id="el80" cx="1138.3" cy="246.7" r="3"/><circle id="el81" cx="1125.7" cy="251.7" r="3"/><circle id="el82" cx="1116.3" cy="262" r="3"/><circle id="el83" cx="1118.3" cy="275.3" r="3"/><circle id="el84" cx="1127.3" cy="284.7" r="3"/>
<circle id="el85" cx="963.7" cy="309" r="3"/><circle id="el86" cx="975.3" cy="314.3" r="3"/><circle id="el87" cx="987.3" cy="310" r="3"/><circle id="el88" cx="995" cy="300" r="3"/>
<circle id="el89" cx="1107" cy="305.3" r="3"/><circle id="el90" cx="1116" cy="316" r="3"/><circle id="el91" cx="1130.3" cy="317.7" r="3"/><circle id="el92" cx="1143.3" cy="320.7" r="3"/><circle id="el93" cx="1153.3" cy="312" r="3"/><circle id="el94" cx="1158.3" cy="300.7" r="3"/><circle id="el95" cx="1109.3" cy="329" r="3"/><circle id="el96" cx="1111.7" cy="341.7" r="3"/><circle id="el97" cx="1121" cy="349" r="3"/>
<circle id="el98" cx="1033.3" cy="332.3" r="3"/><circle id="el99" cx="1031" cy="344.3" r="3"/><circle id="el100" cx="1029" cy="356.3" r="3"/>
</g>
</g>
</svg>
